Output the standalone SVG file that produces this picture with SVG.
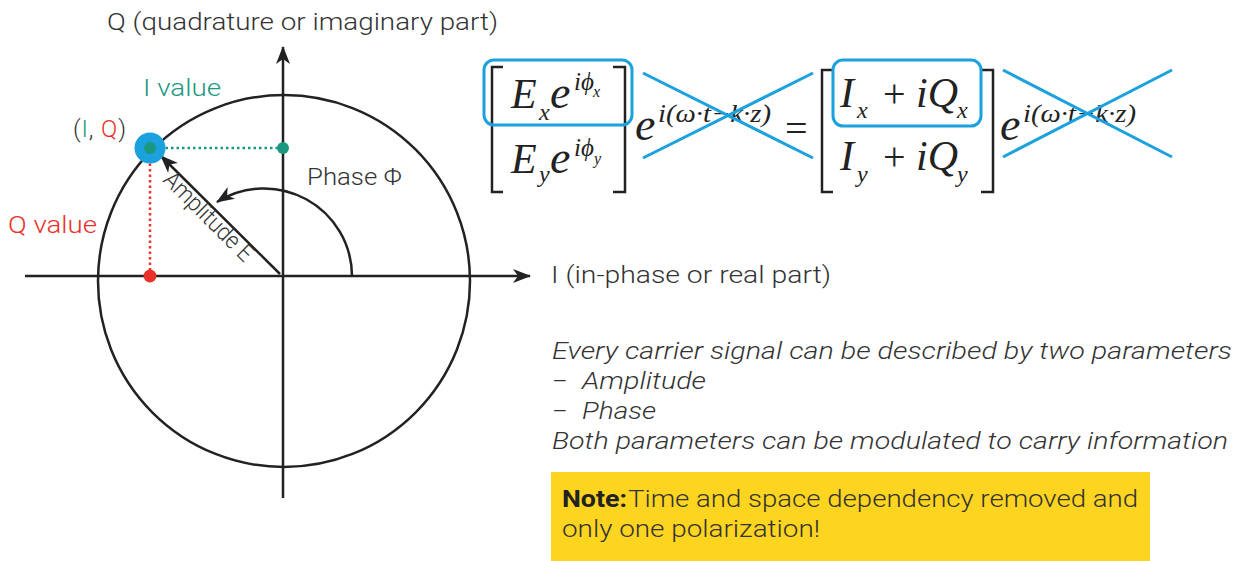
<svg xmlns="http://www.w3.org/2000/svg" width="1239" height="561" viewBox="0 0 1239 561">
<style>
.ln{stroke:#222;stroke-width:2.5;fill:none}
.lbl{font-family:Roboto,"Liberation Sans",sans-serif;font-weight:300;font-size:24px;fill:#333}
.bold{font-weight:700;fill:#222}
.it{font-family:Roboto,"Liberation Sans",sans-serif;font-weight:300;font-style:italic;font-size:24px;fill:#333}
.m{font-family:"Liberation Serif","Times New Roman",serif;font-style:italic;fill:#222}
.mr{font-family:"Liberation Serif","Times New Roman",serif;fill:#222}
.blue{stroke:#1aa1de;stroke-width:3;fill:none}
.grn{fill:#1a9980}
.red{fill:#e8312a}
</style>
<defs>
<marker id="ah" markerUnits="userSpaceOnUse" viewBox="0 0 18 14" refX="17" refY="7" markerWidth="18" markerHeight="14" orient="auto">
<path d="M0,0 L18,7 L0,14 L5,7 z" fill="#222"/>
</marker>
</defs>

<g id="axes">
<line class="ln" x1="25" y1="276" x2="530" y2="276" marker-end="url(#ah)"/>
<line class="ln" x1="283" y1="498" x2="283" y2="47" marker-end="url(#ah)"/>
<text class="lbl" x="107" y="30" textLength="391" lengthAdjust="spacingAndGlyphs">Q (quadrature or imaginary part)</text>
<text class="lbl" x="551" y="283" textLength="280" lengthAdjust="spacingAndGlyphs">I (in-phase or real part)</text>
</g>

<g id="circle">
<circle class="ln" cx="284" cy="281" r="186"/>
</g>

<g id="connectors">
<line x1="160" y1="148" x2="283" y2="148" stroke="#1a9980" stroke-width="2.5" stroke-dasharray="2.5 3"/>
<line x1="150" y1="158" x2="150" y2="276" stroke="#e8312a" stroke-width="2.5" stroke-dasharray="2.5 3"/>
<line class="ln" x1="280" y1="274" x2="161" y2="156" marker-end="url(#ah)"/>
<path class="ln" d="M352,276 A88,88 0 0 0 217,202" marker-end="url(#ah)"/>
</g>

<g id="point">
<circle cx="150" cy="148" r="15.5" fill="#1aa1de"/>
<circle class="grn" cx="150" cy="148" r="6"/>
<circle class="grn" cx="283" cy="148" r="6"/>
<circle class="red" cx="150" cy="276" r="6.5"/>
<text class="lbl" x="73" y="137" textLength="53" lengthAdjust="spacing"><tspan>(</tspan><tspan class="grn">I</tspan><tspan>, </tspan><tspan class="red">Q</tspan><tspan>)</tspan></text>
<text class="lbl grn" x="143" y="96" textLength="78" lengthAdjust="spacingAndGlyphs">I value</text>
<text class="lbl red" x="8" y="233" textLength="89" lengthAdjust="spacingAndGlyphs">Q value</text>
</g>

<g id="amplitude">
<text class="lbl" font-size="21" transform="translate(162,181) rotate(45)" textLength="116" lengthAdjust="spacingAndGlyphs">Amplitude E</text>
</g>

<g id="phase">
<text class="lbl" x="307" y="185" textLength="95" lengthAdjust="spacingAndGlyphs">Phase Φ</text>
</g>

<g id="eq-left">
<path class="ln" d="M503,67 L492,67 L492,192 L503,192"/>
<path class="ln" d="M613,67 L625,67 L625,192 L613,192"/>
<rect class="blue" x="484" y="60" width="148" height="65" rx="10"/>
<text class="m" x="511" y="108" font-size="42">E</text>
<text class="m" x="539" y="120" font-size="24">x</text>
<text class="m" x="550" y="108" font-size="46">e</text>
<text class="m" x="574" y="90" font-size="25">iϕ</text>
<text class="m" x="593" y="97" font-size="16">x</text>
<text class="m" x="511" y="173" font-size="42">E</text>
<text class="m" x="539" y="182" font-size="24">y</text>
<text class="m" x="550" y="173" font-size="46">e</text>
<text class="m" x="574" y="156" font-size="25">iϕ</text>
<text class="m" x="594" y="164" font-size="16">y</text>
<text class="m" x="635" y="140" font-size="46">e</text>
<text class="m" x="658" y="122" font-size="25" textLength="113" lengthAdjust="spacingAndGlyphs">i(ω·t−k·z)</text>
<line class="blue" x1="643" y1="73" x2="813" y2="158"/>
<line class="blue" x1="643" y1="158" x2="813" y2="73"/>
</g>

<g id="equals">
<text class="mr" x="785" y="142" font-size="40">=</text>
</g>

<g id="eq-right">
<path class="ln" d="M833,70 L822,70 L822,192 L833,192"/>
<path class="ln" d="M981,70 L993,70 L993,192 L981,192"/>
<rect class="blue" x="833" y="60" width="148" height="66" rx="10"/>
<text class="m" x="840" y="107" font-size="42">I</text>
<text class="m" x="857" y="118" font-size="24">x</text>
<text class="mr" x="883" y="107" font-size="40">+</text>
<text class="m" x="916" y="107" font-size="42">iQ</text>
<text class="m" x="957" y="118" font-size="24">x</text>
<text class="m" x="840" y="170" font-size="42">I</text>
<text class="m" x="857" y="182" font-size="24">y</text>
<text class="mr" x="883" y="170" font-size="40">+</text>
<text class="m" x="916" y="170" font-size="42">iQ</text>
<text class="m" x="957" y="182" font-size="24">y</text>
<text class="m" x="1000" y="140" font-size="46">e</text>
<text class="m" x="1023" y="122" font-size="25" textLength="113" lengthAdjust="spacingAndGlyphs">i(ω·t−k·z)</text>
<line class="blue" x1="1003" y1="70" x2="1172" y2="157"/>
<line class="blue" x1="1003" y1="157" x2="1172" y2="70"/>
</g>

<g id="description">
<text class="it" x="552" y="359" textLength="680" lengthAdjust="spacingAndGlyphs">Every carrier signal can be described by two parameters</text>
<text class="it" x="552" y="389">–</text>
<text class="it" x="582" y="389" textLength="124" lengthAdjust="spacingAndGlyphs">Amplitude</text>
<text class="it" x="552" y="419">–</text>
<text class="it" x="582" y="419" textLength="74" lengthAdjust="spacingAndGlyphs">Phase</text>
<text class="it" x="552" y="449" textLength="676" lengthAdjust="spacingAndGlyphs">Both parameters can be modulated to carry information</text>
</g>

<g id="note">
<rect x="551" y="472" width="599" height="89" fill="#fdd41f"/>
<text class="lbl bold" x="562" y="507" textLength="65" lengthAdjust="spacingAndGlyphs">Note:</text>
<text class="lbl" x="628" y="507" textLength="510" lengthAdjust="spacingAndGlyphs">Time and space dependency removed and</text>
<text class="lbl" x="562" y="537" textLength="258" lengthAdjust="spacingAndGlyphs">only one polarization!</text>
</g>
</svg>
